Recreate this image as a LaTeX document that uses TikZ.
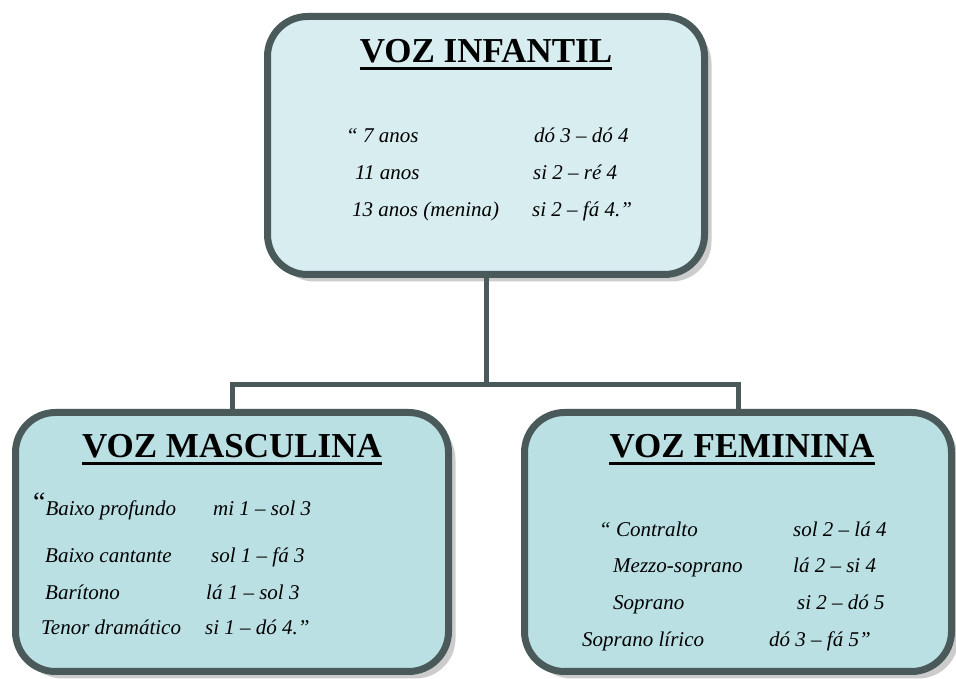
\documentclass[tikz,border=0pt]{standalone}
\usepackage{fontspec}
\setmainfont{Liberation Serif}
\usepackage{tikz}
\usetikzlibrary{shapes,shadows}
\definecolor{boxline}{HTML}{4A5A5B}
\definecolor{toplight}{HTML}{D8EDF0}
\definecolor{botlight}{HTML}{BBE0E3}
\tikzstyle{voicebox}=[draw=boxline, line width=7pt, rounded corners=40pt, drop shadow={shadow xshift=7pt, shadow yshift=-7pt, fill=gray!40, opacity=1}]
\tikzstyle{title}=[font=\bfseries\fontsize{35}{40}\selectfont, inner sep=0pt, anchor=base]
\tikzstyle{voice}=[font=\itshape\fontsize{21}{25}\selectfont, inner sep=0pt, anchor=base west]
\tikzstyle{link}=[draw=boxline, line width=5pt]
\tikzstyle{uline}=[line width=3pt]

\begin{document}
\begin{tikzpicture}[x=1pt,y=1pt]
\useasboundingbox (0,0) rectangle (956,679);
\node[voicebox, fill=toplight, minimum width=437pt, minimum height=258pt] (infantil) at (486,533.5) {};
\node[voicebox, fill=botlight, minimum width=433pt, minimum height=259pt] (masc) at (232,137) {};
\node[voicebox, fill=botlight, minimum width=427pt, minimum height=259pt] (fem) at (738,137) {};
\coordinate (hub) at (486,294);
\draw[link] (infantil.south) -- (hub);
\draw[link] (masc.north) |- (hub) -| (fem.north);

\node[title] (tInf) at (486,616) {VOZ INFANTIL};
\draw[uline] ([yshift=-6pt]tInf.base west) -- ([yshift=-6pt]tInf.base east);
\node[title] (tMasc) at (232,221) {VOZ MASCULINA};
\draw[uline] ([yshift=-6pt]tMasc.base west) -- ([yshift=-6pt]tMasc.base east);
\node[title] (tFem) at (742,221) {VOZ FEMININA};
\draw[uline] ([yshift=-6pt]tFem.base west) -- ([yshift=-6pt]tFem.base east);

\node[voice] (inf1) at (346,536) {“ 7 anos};
\node[voice] (inf1r) at (534,536) {dó 3 – dó 4};
\node[voice] (inf2) at (355,499) {11 anos};
\node[voice] (inf2r) at (533,499) {si 2 – ré 4};
\node[voice] (inf3) at (352,462) {13 anos (menina)};
\node[voice] (inf3r) at (532,462) {si 2 – fá 4.”};

\node[voice] (masc1) at (33,163) {\raisebox{4pt}{\fontsize{28}{28}\selectfont\upshape “}Baixo profundo};
\node[voice] (masc1r) at (213,163) {mi 1 – sol 3};
\node[voice] (masc2) at (45,116) {Baixo cantante};
\node[voice] (masc2r) at (211,116) {sol 1 – fá 3};
\node[voice] (masc3) at (45,79) {Barítono};
\node[voice] (masc3r) at (206,79) {lá 1 – sol 3};
\node[voice] (masc4) at (41,44) {Tenor dramático};
\node[voice] (masc4r) at (205,44) {si 1 – dó 4.”};

\node[voice] (fem1) at (599,142) {“ Contralto};
\node[voice] (fem1r) at (793,142) {sol 2 – lá 4};
\node[voice] (fem2) at (613,106) {Mezzo-soprano};
\node[voice] (fem2r) at (793,106) {lá 2 – si 4};
\node[voice] (fem3) at (613,69) {Soprano};
\node[voice] (fem3r) at (797,69) {si 2 – dó 5};
\node[voice] (fem4) at (582,32) {Soprano lírico};
\node[voice] (fem4r) at (769,32) {dó 3 – fá 5”};
\end{tikzpicture}
\end{document}
